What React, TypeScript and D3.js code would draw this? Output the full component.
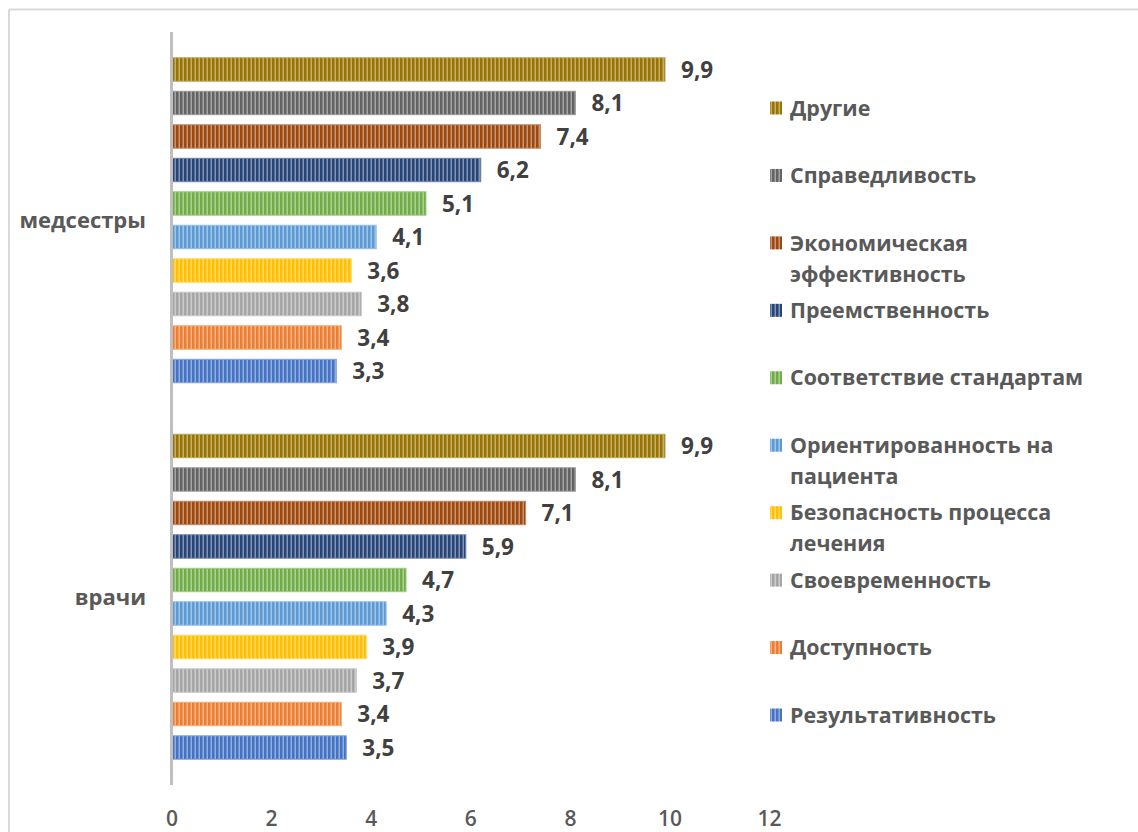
import React from "react";
import * as d3 from "d3";

// Groups on the category axis (top to bottom)
const groups = ["медсестры", "врачи"];

// Series, listed top to bottom as they appear in each group and in the legend
const series = [
  "Другие",
  "Справедливость",
  "Экономическая эффективность",
  "Преемственность",
  "Соответствие стандартам",
  "Ориентированность на пациента",
  "Безопасность процесса лечения",
  "Своевременность",
  "Доступность",
  "Результативность",
];

// Legend lines (long names wrap onto a second line)
const legendLines = [
  ["Другие"],
  ["Справедливость"],
  ["Экономическая", "эффективность"],
  ["Преемственность"],
  ["Соответствие стандартам"],
  ["Ориентированность на", "пациента"],
  ["Безопасность процесса", "лечения"],
  ["Своевременность"],
  ["Доступность"],
  ["Результативность"],
];

const nurseValues = [9.9, 8.1, 7.4, 6.2, 5.1, 4.1, 3.6, 3.8, 3.4, 3.3];
const doctorValues = [9.9, 8.1, 7.1, 5.9, 4.7, 4.3, 3.9, 3.7, 3.4, 3.5];

const colors = [
  "#997300",
  "#636363",
  "#9e480e",
  "#264478",
  "#70ad47",
  "#5b9bd5",
  "#ffc000",
  "#a5a5a5",
  "#ed7d31",
  "#4472c4",
];

const xTicks = [0, 2, 4, 6, 8, 10, 12];

const W = 1138;
const H = 832;
const FONT = "'Open Sans', 'Noto Sans', sans-serif";

export default function App() {
  const values = [nurseValues, doctorValues];

  const x = d3.scaleLinear().domain([0, 12]).range([172, 769.6]);
  const yGroup = d3.scaleBand<string>().domain(groups).range([32, 785]).padding(0);
  const innerSpan = 325;
  const yInner = d3
    .scaleBand<string>()
    .domain(series)
    .range([0, innerSpan])
    .paddingInner(0.3)
    .paddingOuter(0);
  const innerOffset = (yGroup.bandwidth() - innerSpan) / 2;

  const tint = (c: string, k: number) => d3.interpolateRgb(c, "#ffffff")(k);

  const legendY = d3.scaleLinear().domain([0, series.length - 1]).range([108, 715]);

  return (
    <svg
      width={W}
      height={H}
      style={{ position: "fixed", left: 0, top: 0, background: "#ffffff" }}
    >
      <defs>
        {colors.map((c, i) => (
          <pattern
            key={i}
            id={`stripe-${i}`}
            patternUnits="userSpaceOnUse"
            width={4}
            height={8}
          >
            <rect x={0} y={0} width={4} height={8} fill={tint(c, 0.42)} />
            <rect x={0} y={0} width={2} height={8} fill={c} />
            <rect x={2} y={0} width={1} height={8} fill={tint(c, 0.22)} />
          </pattern>
        ))}
      </defs>

      {/* chart area border */}
      <line x1={9} y1={9.5} x2={W} y2={9.5} stroke="#d9d9d9" strokeWidth={2} />
      <line x1={9} y1={9.5} x2={9} y2={H} stroke="#d9d9d9" strokeWidth={2} />

      {/* bars and data labels */}
      {groups.map((g, gi) =>
        series.map((s, si) => {
          const v = values[gi][si];
          const y0 = (yGroup(g) as number) + innerOffset + (yInner(s) as number);
          const bh = yInner.bandwidth();
          return (
            <g key={`${g}-${s}`}>
              <rect
                x={x(0)}
                y={y0}
                width={x(v) - x(0)}
                height={bh}
                fill={`url(#stripe-${si})`}
                stroke={tint(colors[si], 0.35)}
                strokeWidth={1}
              />
              <text
                x={x(v) + 16}
                y={y0 + bh / 2}
                dy="0.36em"
                fontFamily={FONT}
                fontWeight={700}
                fontSize={22.5}
                fill="#404040"
              >
                {d3.format(".1f")(v).replace(".", ",")}
              </text>
            </g>
          );
        })
      )}

      {/* vertical category axis line */}
      <line x1={171.5} y1={32} x2={171.5} y2={785} stroke="#bfbfbf" strokeWidth={3} />

      {/* category labels */}
      {groups.map((g) => (
        <text
          key={g}
          x={146}
          y={(yGroup(g) as number) + yGroup.bandwidth() / 2}
          dy="0.36em"
          textAnchor="end"
          fontFamily={FONT}
          fontWeight={700}
          fontSize={22}
          fill="#595959"
        >
          {g}
        </text>
      ))}

      {/* value axis tick labels */}
      {xTicks.map((t) => (
        <text
          key={t}
          x={x(t)}
          y={818}
          dy="0.36em"
          textAnchor="middle"
          fontFamily={FONT}
          fontWeight={600}
          fontSize={21}
          fill="#595959"
        >
          {t}
        </text>
      ))}

      {/* legend */}
      {series.map((s, i) => {
        const ly = legendY(i);
        return (
          <g key={s}>
            <rect
              x={770}
              y={ly - 6.5}
              width={12}
              height={13}
              fill={`url(#stripe-${i})`}
            />
            {legendLines[i].map((line, li) => (
              <text
                key={li}
                x={790}
                y={ly + li * 31}
                dy="0.36em"
                fontFamily={FONT}
                fontWeight={700}
                fontSize={21.4}
                fill="#595959"
              >
                {line}
              </text>
            ))}
          </g>
        );
      })}
    </svg>
  );
}
